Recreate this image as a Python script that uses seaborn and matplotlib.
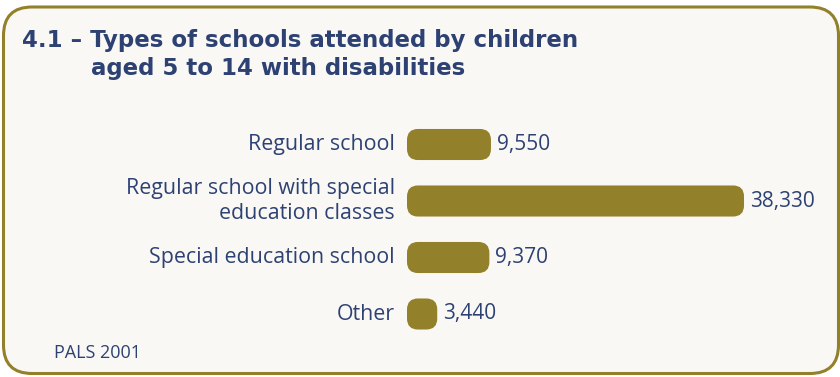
import matplotlib
matplotlib.use("Agg")
import matplotlib.pyplot as plt
from matplotlib.patches import FancyBboxPatch
import seaborn as sns
import pandas as pd

categories = [
    "Regular school",
    "Regular school with special\neducation classes",
    "Special education school",
    "Other",
]
children = [9550, 38330, 9370, 3440]
title_lines = ["4.1 \u2013 Types of schools attended by children",
               "aged 5 to 14 with disabilities"]
source = "PALS 2001"

NAVY = "#2d4273"
OLIVE = "#93802b"
PAPER = "#faf8f4"

sns.set_theme(style="white")
plt.rcParams["font.family"] = ["Open Sans", "DejaVu Sans"]

W, H = 840, 377
fig = plt.figure(figsize=(W / 100, H / 100), dpi=100)
fig.patch.set_facecolor("white")

# rounded panel framing the chart
frame = FancyBboxPatch((3.5 / W, 3.5 / H), (W - 5) / W, (H - 10.5) / H,
                       boxstyle="round,pad=0,rounding_size=0.034",
                       transform=fig.transFigure, facecolor=PAPER,
                       edgecolor=OLIVE, linewidth=2.2, mutation_aspect=W / H,
                       zorder=-5)
fig.patches.append(frame)

ax = fig.add_axes([407 / W, (H - 342.25) / H, 351.7 / W, 226 / H])
ax.set_zorder(2)
ax.patch.set_visible(False)

df = pd.DataFrame({"type": categories, "children": children})
sns.barplot(data=df, x="children", y="type", orient="h", color=OLIVE,
            width=0.55, ax=ax, saturation=1)

ax.set_xlim(0, 40000)
ax.set_ylim(3.5, -0.5)

# swap the flat bars for rounded ones of the same extent
fig.canvas.draw()
px_x = ax.transData.transform((1, 0))[0] - ax.transData.transform((0, 0))[0]
px_y = abs(ax.transData.transform((0, 1))[1] - ax.transData.transform((0, 0))[1])
aspect = (1 / px_y) / (1 / px_x)
radius_px = 11
for p in list(ax.patches):
    x0, y0, w, h = p.get_x(), p.get_y(), p.get_width(), p.get_height()
    p.remove()
    ax.add_patch(FancyBboxPatch((x0, y0), w, h,
                                boxstyle=f"round,pad=0,rounding_size={radius_px / px_x}",
                                mutation_aspect=aspect, facecolor=OLIVE,
                                edgecolor="none", clip_on=False))
    ax.text(x0 + w + 6 / px_x, y0 + h / 2, f"{int(w):,}", va="center",
            ha="left", fontsize=15, color=NAVY, clip_on=False)

for s in ax.spines.values():
    s.set_visible(False)
ax.set_xticks([])
ax.set_xlabel("")
ax.set_ylabel("")
ax.tick_params(axis="y", length=0, pad=8.6, labelsize=15.4, labelcolor=NAVY)
for lbl in ax.get_yticklabels():
    lbl.set_verticalalignment("center")

fig.text(22 / W, 1 - 47 / H, title_lines[0], fontsize=16.5, fontweight="bold",
         color=NAVY, family=["DejaVu Sans"], va="baseline")
fig.text(91 / W, 1 - 75 / H, title_lines[1], fontsize=16.5, fontweight="bold",
         color=NAVY, family=["DejaVu Sans"], va="baseline")
fig.text(54 / W, 1 - 353 / H, source, fontsize=13, color=NAVY, va="center")

fig.savefig("out.png", dpi=100, facecolor="white")
